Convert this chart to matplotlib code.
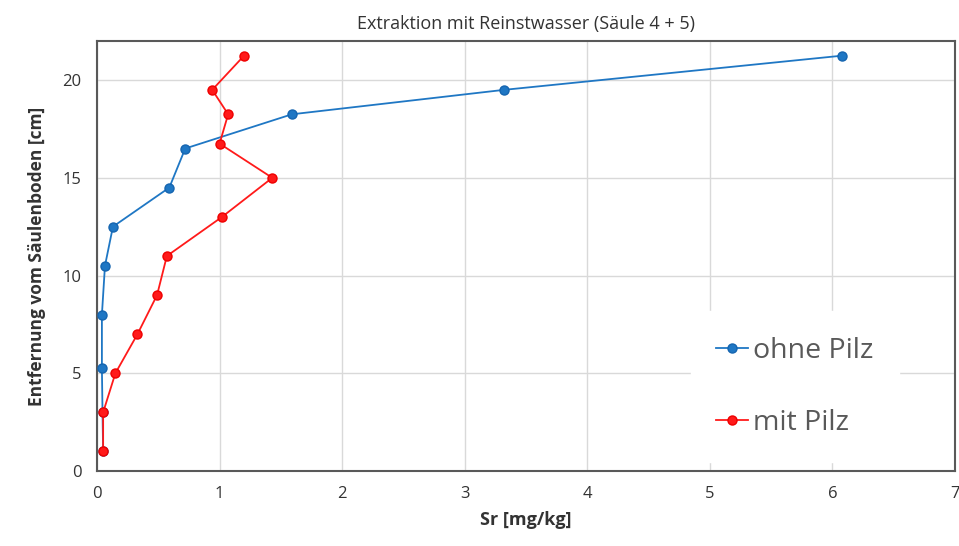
import matplotlib
matplotlib.use("Agg")
import matplotlib.pyplot as plt

plt.rcParams['font.family'] = ['Open Sans', 'DejaVu Sans']

depth = [21.25, 19.5, 18.25, 16.5, 14.5, 12.5, 10.5, 8, 5.25, 3, 1]
sr_ohne = [6.08, 3.32, 1.59, 0.72, 0.59, 0.13, 0.065, 0.04, 0.04, 0.045, 0.05]

depth_mit = [21.25, 19.5, 18.25, 16.75, 15, 13, 11, 9, 7, 5, 3, 1]
sr_mit = [1.2, 0.94, 1.07, 1.0, 1.43, 1.02, 0.57, 0.49, 0.33, 0.15, 0.05, 0.05]

xticks = [0, 1, 2, 3, 4, 5, 6, 7]
yticks = [0, 5, 10, 15, 20]

fig = plt.figure(figsize=(9.59, 5.46), dpi=100)
ax = fig.add_axes([97/959, 1 - 471/546, (955-97)/959, (471-41)/546])

ax.plot(sr_ohne, depth, color='#1f77c4', lw=1.3, marker='o', ms=6.5,
        markeredgecolor='#1565b0', label='ohne Pilz', zorder=3)
ax.plot(sr_mit, depth_mit, color='#ff1a1a', lw=1.3, marker='o', ms=6.5,
        markeredgecolor='#ee0000', label='mit Pilz', zorder=4)

ax.set_xlim(0, 7)
ax.set_ylim(0, 22)
ax.set_xticks(xticks)
ax.set_yticks(yticks)
ax.grid(True, color='#d9d9d9', lw=1)
ax.set_axisbelow(True)
for s in ax.spines.values():
    s.set_color('#595959')
    s.set_linewidth(1.5)
ax.tick_params(length=0, labelsize=12, colors='#333333', pad=11)

ax.set_xlabel('Sr [mg/kg]', fontsize=13, fontweight='bold', color='#333333', labelpad=6)
ax.set_ylabel('Entfernung vom Säulenboden [cm]', fontsize=12.5, fontweight='bold', color='#333333', labelpad=12)
ax.set_title('Extraktion mit Reinstwasser (Säule 4 + 5)', fontsize=13, color='#333333', pad=9)

leg = ax.legend(loc='lower right', bbox_to_anchor=(0.935, 0.02), fontsize=20.5,
                frameon=True, fancybox=False, edgecolor='white', framealpha=1,
                handlelength=1.1, handletextpad=0.2, labelspacing=1.55,
                borderpad=0.9, borderaxespad=0)
for t in leg.get_texts():
    t.set_color('#595959')

fig.savefig('out.png', dpi=100)
